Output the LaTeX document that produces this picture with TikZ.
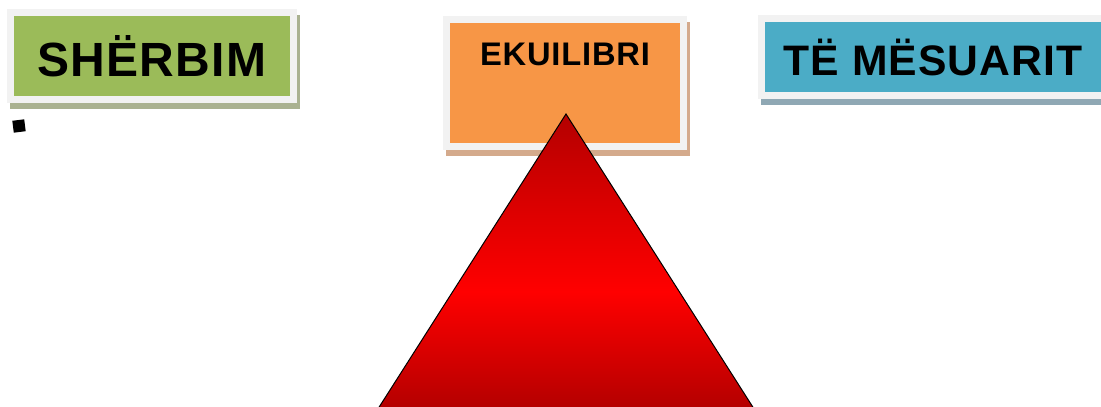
\documentclass[tikz,border=0pt]{standalone}
\usepackage{fontspec}
\setmainfont{Liberation Sans}[LetterSpace=2.5]
\usetikzlibrary{positioning}

\newdimen\px \px=0.75pt
\definecolor{frame}{RGB}{242,242,242}
\definecolor{sgreen}{RGB}{155,187,89}
\definecolor{sgreenshadow}{RGB}{170,178,145}
\definecolor{eorange}{RGB}{247,150,70}
\definecolor{eorangeshadow}{RGB}{212,170,140}
\definecolor{mblue}{RGB}{75,172,198}
\definecolor{mblueshadow}{RGB}{143,168,180}
\definecolor{darkred}{RGB}{180,0,0}
\definecolor{deepred}{RGB}{140,0,0}

\begin{document}
\begin{tikzpicture}[x=\px, y=\px,
        box/.style={rectangle, inner sep=0pt, draw=frame, line width=7\px},
        shadowed/.style={preaction={draw=#1, fill=#1, transform canvas={shift={(3\px,-6\px)}}}}]
        \useasboundingbox (0,0) rectangle (1101,407);
        \clip (0,0) rectangle (1101,407);
        % boxes
        \node[box, shadowed=sgreenshadow, fill=sgreen, minimum width=283\px, minimum height=87\px,
              font=\fontsize{36pt}{40pt}\selectfont\bfseries] (sherbim) at (152,351) {SHËRBIM};
        \node[box, shadowed=eorangeshadow, fill=eorange, minimum width=237\px, minimum height=127\px,
              text height=23\px, text depth=57\px,
              font=\fontsize{24.5pt}{28pt}\selectfont\bfseries] (ekuilibri) at (565,324) {EKUILIBRI};
        \node[box, shadowed=mblueshadow, fill=mblue, minimum width=344\px, minimum height=77\px,
              font=\fontsize{32pt}{36pt}\selectfont\bfseries] (mesuarit) at (933,350) {TË MËSUARIT};
        \node[fill=black, inner sep=0pt, minimum size=12\px, rotate=7] (bullet) at (19,281) {};
        % triangle
        \coordinate (apex) at (566,293);
        \coordinate (baseL) at (339,-63);
        \coordinate (baseR) at (793,-63);
        \shadedraw[top color=darkred, bottom color=deepred, middle color=red, draw=black, line width=1\px]
            (apex) -- (baseR) -- (baseL) -- cycle;
\end{tikzpicture}
\end{document}
